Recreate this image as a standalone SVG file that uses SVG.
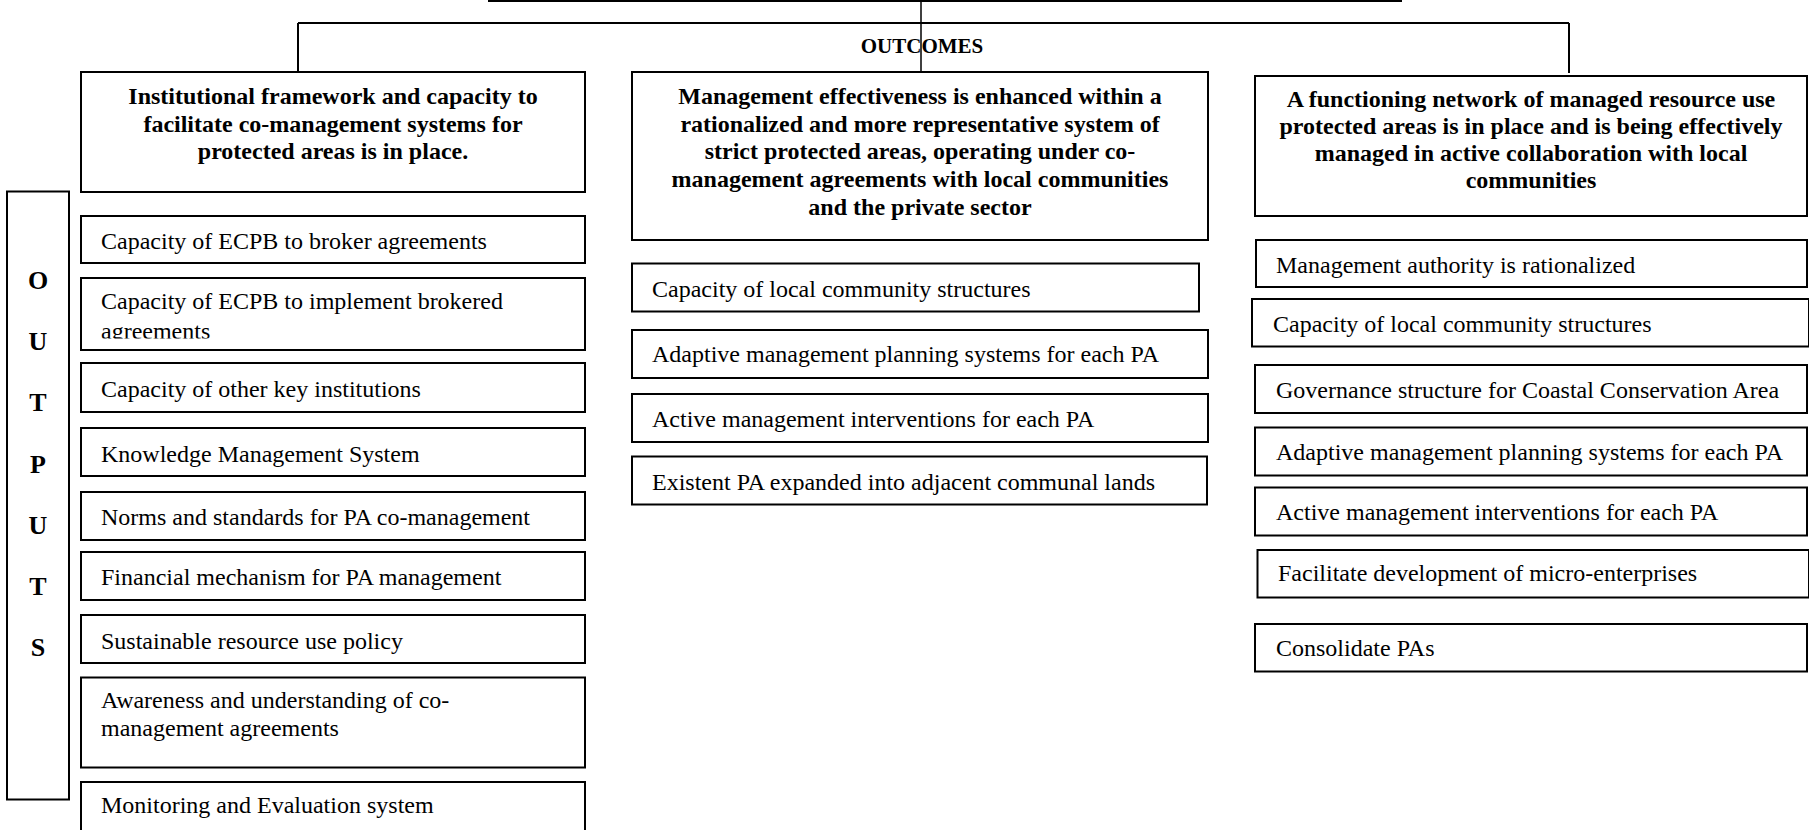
<svg xmlns="http://www.w3.org/2000/svg" width="1809" height="830" viewBox="0 0 1809 830">
<style>
.bx{fill:#fff;stroke:#000;stroke-width:2}
.ln{fill:none;stroke:#000;stroke-width:2}
.t{font-family:"Liberation Serif","Times New Roman",serif;font-size:24px;fill:#000}
.h{font-family:"Liberation Serif","Times New Roman",serif;font-size:24px;font-weight:bold;fill:#000;text-anchor:middle}
.v{font-family:"Liberation Serif","Times New Roman",serif;font-size:26px;font-weight:bold;fill:#000;text-anchor:middle}
.oc{font-family:"Liberation Serif","Times New Roman",serif;font-size:21px;font-weight:bold;fill:#000;text-anchor:middle}
</style>
<defs>
<clipPath id="clip2"><rect x="81" y="278" width="504" height="60.5"/></clipPath>
</defs>
<rect width="1809" height="830" fill="#fff"/>
<g id="connectors">
<path class="ln" d="M488,1 H1402"/>
<path class="ln" d="M921,0 V72" style="stroke-width:1.5"/>
<path class="ln" d="M298,23 H1569"/>
<path class="ln" d="M298,23 V72"/>
<path class="ln" d="M1569,23 V73"/>
</g>
<g id="outcomes-label"><text class="oc" x="922" y="53">OUTCOMES</text></g>
<g id="outputs-label">
<rect class="bx" x="7" y="191.5" width="62" height="608"/>
<text class="v" x="38" y="289">O</text>
<text class="v" x="38" y="350">U</text>
<text class="v" x="38" y="411">T</text>
<text class="v" x="38" y="473">P</text>
<text class="v" x="38" y="534">U</text>
<text class="v" x="38" y="595">T</text>
<text class="v" x="38" y="656">S</text>
</g>
<g id="outcome1">
<rect class="bx" x="81" y="72" width="504" height="120"/>
<text class="h" x="333" y="104">Institutional framework and capacity to</text>
<text class="h" x="333" y="132">facilitate co-management systems for</text>
<text class="h" x="333" y="159">protected areas is in place.</text>
</g>
<g id="outcome2">
<rect class="bx" x="632" y="72" width="576" height="168"/>
<text class="h" x="920" y="104">Management effectiveness is enhanced within a</text>
<text class="h" x="920" y="131.5">rationalized and more representative system of</text>
<text class="h" x="920" y="159">strict protected areas, operating under co-</text>
<text class="h" x="920" y="187">management agreements with local communities</text>
<text class="h" x="920" y="214.5">and the private sector</text>
</g>
<g id="outcome3">
<rect class="bx" x="1255" y="76" width="552" height="140"/>
<text class="h" x="1531" y="107">A functioning network of managed resource use</text>
<text class="h" x="1531" y="134">protected areas is in place and is being effectively</text>
<text class="h" x="1531" y="161">managed in active collaboration with local</text>
<text class="h" x="1531" y="188">communities</text>
</g>
<g id="o1-1"><rect class="bx" x="81" y="216" width="504" height="47"/><text class="t" x="101" y="249">Capacity of ECPB to broker agreements</text></g>
<g id="o1-2"><rect class="bx" x="81" y="278" width="504" height="72"/><g clip-path="url(#clip2)"><text class="t" x="101" y="309">Capacity of ECPB to implement brokered</text><text class="t" x="101" y="338.5">agreements</text></g></g>
<g id="o1-3"><rect class="bx" x="81" y="363" width="504" height="49"/><text class="t" x="101" y="396.5">Capacity of other key institutions</text></g>
<g id="o1-4"><rect class="bx" x="81" y="428" width="504" height="48"/><text class="t" x="101" y="461.5">Knowledge Management System</text></g>
<g id="o1-5"><rect class="bx" x="81" y="492" width="504" height="48"/><text class="t" x="101" y="525">Norms and standards for PA co-management</text></g>
<g id="o1-6"><rect class="bx" x="81" y="552" width="504" height="48"/><text class="t" x="101" y="585">Financial mechanism for PA management</text></g>
<g id="o1-7"><rect class="bx" x="81" y="615" width="504" height="48"/><text class="t" x="101" y="648.5">Sustainable resource use policy</text></g>
<g id="o1-8"><rect class="bx" x="81" y="677.5" width="504" height="90"/><text class="t" x="101" y="708">Awareness and understanding of co-</text><text class="t" x="101" y="736">management agreements</text></g>
<g id="o1-9"><rect class="bx" x="81" y="782" width="504" height="50"/><text class="t" x="101" y="813">Monitoring and Evaluation system</text></g>
<g id="o2-1"><rect class="bx" x="632" y="263.5" width="567" height="48"/><text class="t" x="652" y="296.5">Capacity of local community structures</text></g>
<g id="o2-2"><rect class="bx" x="632" y="330" width="576" height="48"/><text class="t" x="652" y="361.5">Adaptive management planning systems for each PA</text></g>
<g id="o2-3"><rect class="bx" x="632" y="394" width="576" height="48"/><text class="t" x="652" y="426.5">Active management interventions for each PA</text></g>
<g id="o2-4"><rect class="bx" x="632" y="456.5" width="575" height="48"/><text class="t" x="652" y="489.5">Existent PA expanded into adjacent communal lands</text></g>
<g id="o3-1"><rect class="bx" x="1256" y="240" width="551" height="47"/><text class="t" x="1276" y="272.5">Management authority is rationalized</text></g>
<g id="o3-2"><rect class="bx" x="1252" y="299" width="557" height="47.5"/><text class="t" x="1273" y="331.5">Capacity of local community structures</text></g>
<g id="o3-3"><rect class="bx" x="1255" y="365" width="552" height="48"/><text class="t" x="1276" y="397.5">Governance structure for Coastal Conservation Area</text></g>
<g id="o3-4"><rect class="bx" x="1255" y="427.5" width="552" height="48"/><text class="t" x="1276" y="460">Adaptive management planning systems for each PA</text></g>
<g id="o3-5"><rect class="bx" x="1255" y="487.5" width="552" height="48"/><text class="t" x="1276" y="520">Active management interventions for each PA</text></g>
<g id="o3-6"><rect class="bx" x="1257.5" y="550" width="551.5" height="47.5"/><text class="t" x="1278" y="581">Facilitate development of micro-enterprises</text></g>
<g id="o3-7"><rect class="bx" x="1255" y="624" width="552" height="47.5"/><text class="t" x="1276" y="656">Consolidate PAs</text></g>
</svg>
